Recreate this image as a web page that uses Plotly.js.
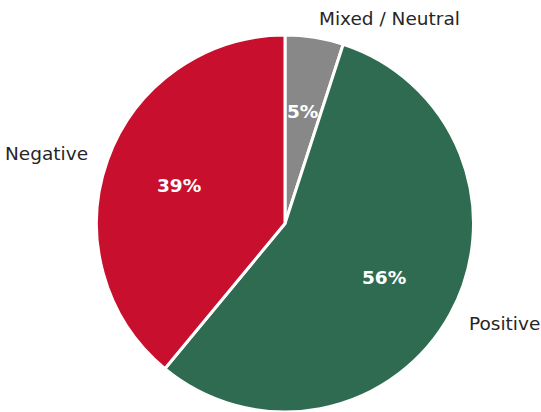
<!DOCTYPE html>
<html>
<head>
<meta charset="utf-8">
<script src="https://cdn.plot.ly/plotly-3.0.1.min.js"></script>
<style>html,body{margin:0;padding:0;background:#fff;}#chart{width:541px;height:412px;}</style>
</head>
<body>
<div id="chart"></div>
<script>
const categories = ["Mixed / Neutral", "Positive", "Negative"];
const values = [5, 56, 39];
const colors = ["#888888", "#2e6b51", "#c8102e"];

const W = 541, H = 412;
const domX = [0.1765, 0.8771];
const domY = [0, 0.9150];

// pie geometry derived from the domain (same rule Plotly uses)
const cx = (domX[0] + domX[1]) / 2 * W;
const cy = H - (domY[0] + domY[1]) / 2 * H;
const R = Math.min((domX[1] - domX[0]) * W, (domY[1] - domY[0]) * H) / 2;

const total = values.reduce((a, b) => a + b, 0);
const annotations = [];
let cum = 0;
values.forEach((v, i) => {
  const mid = (cum + v / 2) / total * 2 * Math.PI; // clockwise from top
  cum += v;
  const sx = Math.sin(mid), sy = Math.cos(mid);
  const lx = cx + 1.1 * R * sx, ly = cy - 1.1 * R * sy;
  annotations.push({
    x: lx / W, y: 1 - ly / H, xref: "paper", yref: "paper",
    text: categories[i], showarrow: false,
    xanchor: sx > 0 ? "left" : "right", yanchor: "middle",
    font: {family: "DejaVu Sans", size: 18.5, color: "#262626"}
  });
  const px = cx + 0.6 * R * sx, py = cy - 0.6 * R * sy;
  annotations.push({
    x: px / W, y: 1 - py / H, xref: "paper", yref: "paper",
    text: "<b>" + Math.round(v / total * 100) + "%</b>", showarrow: false,
    xanchor: "center", yanchor: "middle",
    font: {family: "DejaVu Sans", size: 18.5, color: "#ffffff"}
  });
});

const data = [{
  type: "pie",
  labels: categories,
  values: values,
  sort: false,
  direction: "clockwise",
  rotation: 0,
  marker: {colors: colors, line: {color: "#ffffff", width: 3}},
  textinfo: "none",
  hoverinfo: "label+percent",
  domain: {x: domX, y: domY}
}];

const layout = {
  width: W, height: H,
  margin: {l: 0, r: 0, t: 0, b: 0},
  showlegend: false,
  paper_bgcolor: "#ffffff",
  annotations: annotations
};

Plotly.newPlot("chart", data, layout, {displayModeBar: false, staticPlot: true});
</script>
</body>
</html>
